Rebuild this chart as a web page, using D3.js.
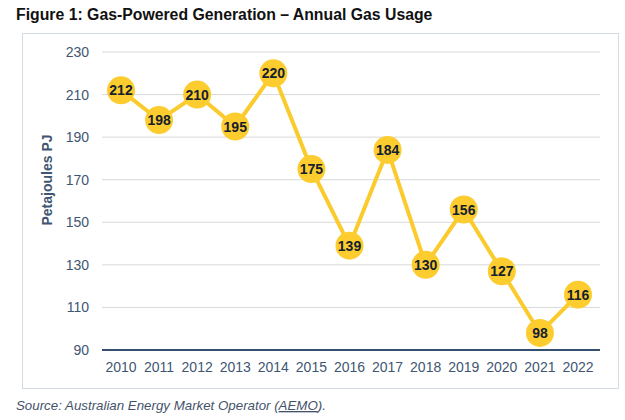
<!DOCTYPE html>
<html>
<head>
<meta charset="utf-8">
<script src="https://cdn.jsdelivr.net/npm/d3@7"></script>
<style>
body{margin:0;background:#fff;font-family:"Liberation Sans",Arial,sans-serif;}
</style>
</head>
<body>
<svg width="625" height="420"></svg>
<script>
var years = [2010,2011,2012,2013,2014,2015,2016,2017,2018,2019,2020,2021,2022];
var usage = [212,198,210,195,220,175,139,184,130,156,127,98,116];
var yTicks = [90,110,130,150,170,190,210,230];

var svg = d3.select("svg");

svg.append("text")
    .attr("x",16).attr("y",20)
    .style("font-size","15.8px").style("font-weight","bold")
    .attr("fill","#111")
    .text("Figure 1: Gas-Powered Generation \u2013 Annual Gas Usage");

svg.append("rect")
    .attr("x",22.5).attr("y",33.5).attr("width",596).attr("height",355)
    .attr("fill","none").attr("stroke","#d5dbe3");

var x = d3.scalePoint().domain(years).range([121,578]);
var y = d3.scaleLinear().domain([90,230]).range([350,52]);

svg.selectAll(".grid").data(yTicks.slice(1)).enter().append("line")
    .attr("x1",102).attr("x2",600)
    .attr("y1",d=>y(d)).attr("y2",d=>y(d))
    .attr("stroke","#d9d9d9").attr("stroke-width",1);

svg.append("line")
    .attr("x1",102).attr("x2",600).attr("y1",y(90)).attr("y2",y(90))
    .attr("stroke","#34506e").attr("stroke-width",2);

svg.selectAll(".yt").data(yTicks).enter().append("text")
    .attr("x",89).attr("y",d=>y(d)+5)
    .attr("text-anchor","end")
    .style("font-size","14px").attr("fill","#3f5672")
    .text(d=>d);

svg.selectAll(".xt").data(years).enter().append("text")
    .attr("x",d=>x(d)).attr("y",372)
    .attr("text-anchor","middle")
    .style("font-size","14px").attr("fill","#3f5672")
    .text(d=>d);

svg.append("text")
    .attr("transform","translate(52,180) rotate(-90)")
    .attr("text-anchor","middle")
    .style("font-size","14px").style("font-weight","bold").attr("fill","#3f5672")
    .text("Petajoules PJ");

var line = d3.line().x((d,i)=>x(years[i])).y(d=>y(d));
svg.append("path").datum(usage)
    .attr("d",line).attr("fill","none")
    .attr("stroke","#fbcb2e").attr("stroke-width",4);

svg.selectAll(".dot").data(usage).enter().append("circle")
    .attr("cx",(d,i)=>x(years[i])).attr("cy",d=>y(d)).attr("r",14)
    .attr("fill","#fdcd30");

svg.selectAll(".lbl").data(usage).enter().append("text")
    .attr("x",(d,i)=>x(years[i])).attr("y",d=>y(d)+5)
    .attr("text-anchor","middle")
    .style("font-size","14px").style("font-weight","bold").attr("fill","#14202e")
    .text(d=>d);

var src = svg.append("text")
    .attr("x",16).attr("y",410)
    .style("font-size","13.3px").style("font-style","italic").attr("fill","#44536a");
src.append("tspan").text("Source: Australian Energy Market Operator (");
src.append("tspan").style("text-decoration","underline").text("AEMO");
src.append("tspan").text(").");
</script>
</body>
</html>
